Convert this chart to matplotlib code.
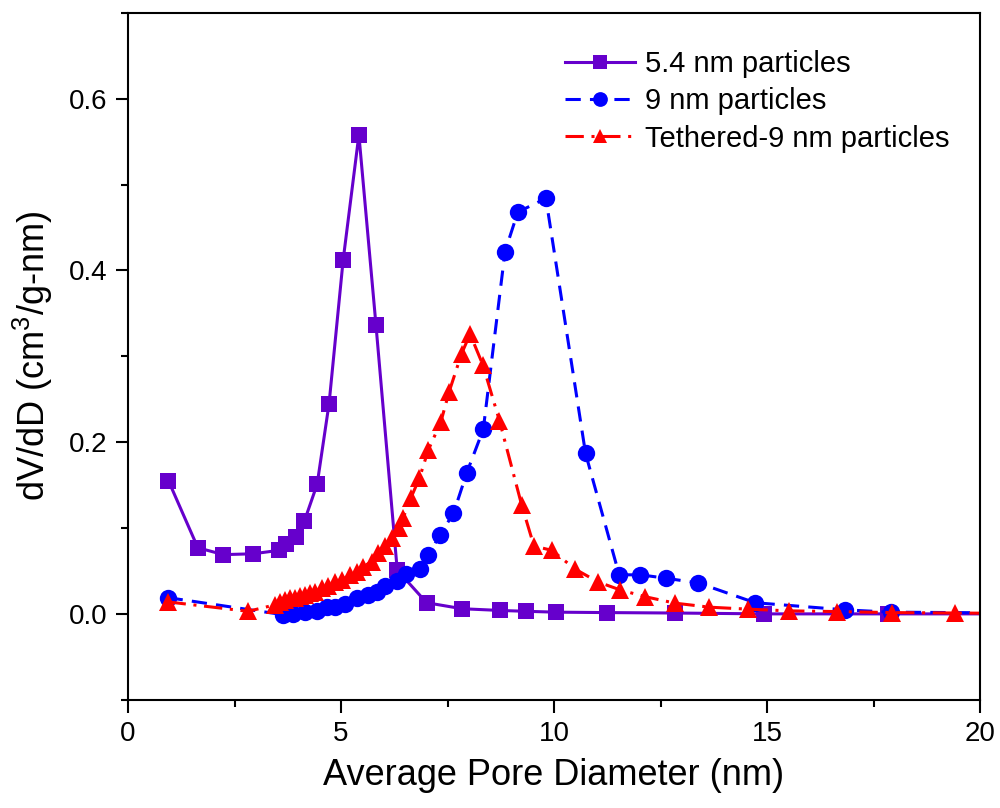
import matplotlib
matplotlib.use("Agg")
import matplotlib.pyplot as plt

plt.rcParams['font.family'] = ['Liberation Sans', 'DejaVu Sans']
plt.rcParams['mathtext.default'] = 'regular'

# 5.4 nm particles
x_54 = [0.95, 1.64, 2.24, 2.94, 3.54, 3.72, 3.94, 4.14, 4.44, 4.72, 5.05, 5.42, 5.82,
        6.32, 7.01, 7.84, 8.73, 9.34, 10.04, 11.24, 12.84, 14.94, 17.85, 21.0]
y_54 = [0.155, 0.077, 0.069, 0.070, 0.074, 0.081, 0.089, 0.108, 0.151, 0.245, 0.412, 0.558, 0.337,
        0.051, 0.013, 0.006, 0.004, 0.003, 0.002, 0.0015, 0.001, 0.0, 0.0, 0.0]

# 9 nm particles
x_9 = [0.93, 3.65, 3.88, 4.15, 4.43, 4.66, 4.86, 5.09, 5.37, 5.64, 5.84, 6.03, 6.31, 6.53,
       6.85, 7.05, 7.32, 7.64, 7.95, 8.34, 8.85, 9.15, 9.81, 10.74, 11.53, 12.03, 12.63,
       13.39, 14.72, 16.83, 17.9, 21.0]
y_9 = [0.019, -0.001, 0.0, 0.002, 0.0035, 0.008, 0.0085, 0.012, 0.018, 0.022, 0.026, 0.032,
       0.038, 0.047, 0.052, 0.068, 0.092, 0.117, 0.164, 0.215, 0.422, 0.468, 0.484, 0.187,
       0.0455, 0.0455, 0.0415, 0.036, 0.013, 0.0047, 0.002, 0.001]

# Tethered-9 nm particles
x_t = [0.93, 2.82, 3.45, 3.57, 3.69, 3.80, 3.92, 4.04, 4.15, 4.27, 4.39, 4.55, 4.70, 4.86,
       5.02, 5.21, 5.37, 5.52, 5.72, 5.88, 6.03, 6.19, 6.35, 6.46, 6.64, 6.84, 7.05, 7.34,
       7.54, 7.83, 8.03, 8.33, 8.72, 9.24, 9.53, 9.95, 10.50, 11.04, 11.55, 12.14, 12.84,
       13.65, 14.56, 15.52, 16.64, 17.93, 19.41, 21.0]
y_t = [0.014, 0.003, 0.0105, 0.0144, 0.0163, 0.018, 0.019, 0.021, 0.022, 0.024, 0.026, 0.030,
       0.033, 0.037, 0.040, 0.045, 0.049, 0.055, 0.061, 0.071, 0.079, 0.088, 0.100, 0.112,
       0.135, 0.158, 0.191, 0.223, 0.259, 0.303, 0.326, 0.290, 0.225, 0.127, 0.079, 0.074,
       0.052, 0.037, 0.028, 0.020, 0.0125, 0.0078, 0.0055, 0.0035, 0.0027, 0.0015, 0.001, 0.0005]

fig = plt.figure(figsize=(10, 8.08), dpi=100)
ax = fig.add_axes([0.128, 0.134, 0.852, 0.850])

ax.plot(x_54, y_54, '-', color='#6600CC', lw=2.2, marker='s', ms=11.5, mew=0,
        label='5.4 nm particles')
ax.plot(x_9, y_9, color='#0000FF', lw=2.2, ls=(0, (5, 3)), marker='o', ms=12.5, mew=0,
        label='9 nm particles')
ax.plot(x_t, y_t, color='#FF0000', lw=2.2, ls=(0, (6, 2.5, 1, 2.5)), marker='^', ms=12.5, mew=0,
        label='Tethered-9 nm particles')

ax.set_xlim(0, 20)
ax.set_ylim(-0.1, 0.7)
ax.set_xticks([0, 5, 10, 15, 20])
ax.set_xticks([2.5, 7.5, 12.5, 17.5], minor=True)
ax.set_yticks([0.0, 0.2, 0.4, 0.6])
ax.set_yticks([-0.1, 0.1, 0.3, 0.5, 0.7], minor=True)
ax.yaxis.set_major_formatter(matplotlib.ticker.FormatStrFormatter('%.1f'))

for s in ax.spines.values():
    s.set_linewidth(1.5)
ax.tick_params(which='both', direction='out', top=False, right=False, width=1.5, labelsize=20)
ax.tick_params(which='major', length=9, pad=6)
ax.tick_params(which='minor', length=5)

ax.set_xlabel('Average Pore Diameter (nm)', fontsize=26, labelpad=8)
ax.set_ylabel('dV/dD (cm$^3$/g-nm)', fontsize=26, labelpad=10)

ax.legend(loc='upper left', bbox_to_anchor=(0.513, 0.946), frameon=False, fontsize=21,
          borderpad=0, borderaxespad=0, handlelength=2.4, handletextpad=0.35,
          labelspacing=0.32, markerscale=0.85)

fig.savefig('out.png', dpi=100)
